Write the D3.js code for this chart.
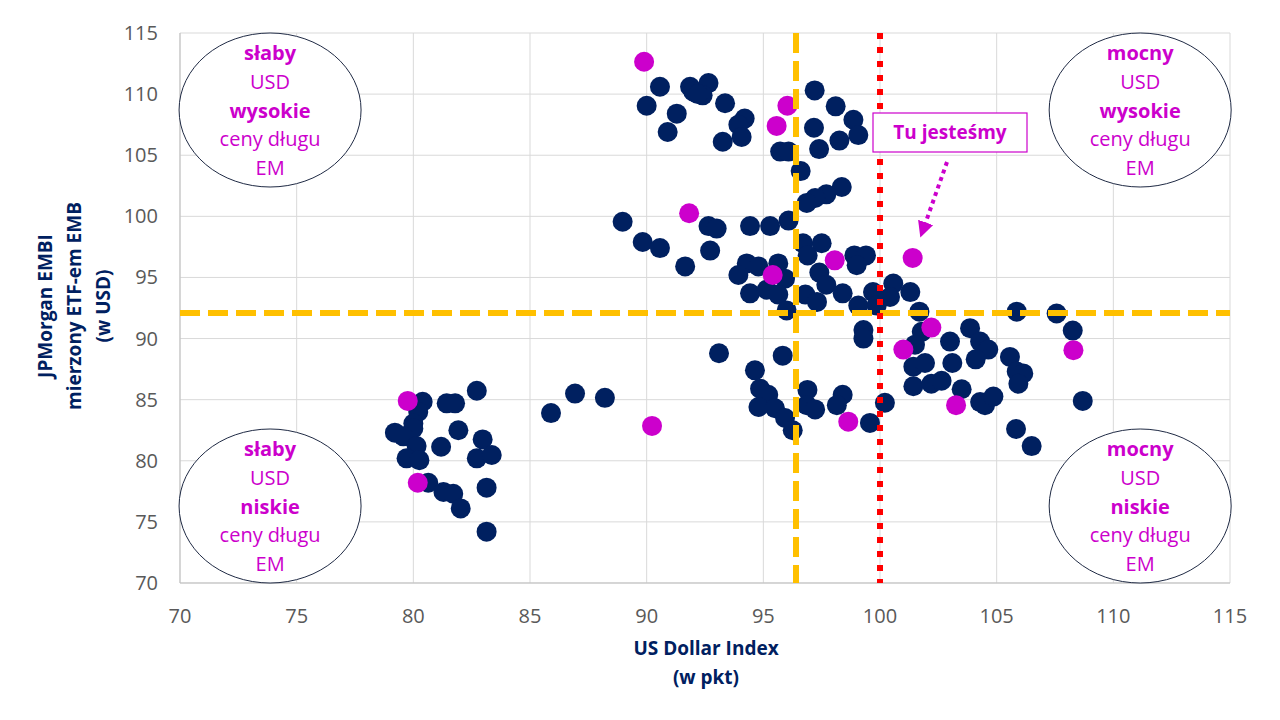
<!DOCTYPE html>
<html>
<head>
<meta charset="utf-8">
<script src="https://cdn.jsdelivr.net/npm/d3@7"></script>
<style>
  body { margin: 0; background: #fff; }
  svg { font-family: "Open Sans", "Liberation Sans", sans-serif; }
</style>
</head>
<body>
<svg id="chart" width="1280" height="720"></svg>
<script>
// ticks of both axes
var xTicks = [70, 75, 80, 85, 90, 95, 100, 105, 110, 115];
var yTicks = [70, 75, 80, 85, 90, 95, 100, 105, 110, 115];

// navy points: [US Dollar Index, EMB]
var navyPoints = [
  [90.57,110.6],[90.0,109.05],[91.86,110.6],[92.0,110.2],[92.65,110.9],[92.4,109.9],[92.2,110.0],
  [91.29,108.4],[90.9,106.9],[93.36,109.25],[94.2,108.0],[93.93,107.5],[94.07,106.5],[93.26,106.1],
  [95.72,105.3],[96.08,105.3],[96.6,103.7],[97.2,110.3],[98.1,109.0],[97.17,107.25],[98.86,107.9],
  [99.07,106.65],[98.26,106.2],[97.39,105.5],[98.36,102.4],[97.7,101.8],[97.22,101.5],[96.86,101.1],
  [88.97,99.56],[96.08,99.65],[95.29,99.2],[94.43,99.2],[92.65,99.2],[93.0,99.0],
  [89.83,97.9],[90.57,97.4],[92.72,97.2],[91.65,95.9],[94.29,96.15],[94.79,95.9],[93.93,95.2],
  [95.64,96.15],[95.93,94.9],[94.43,93.7],[95.15,94.0],[95.64,93.6],[96.0,92.3],
  [96.7,97.8],[97.5,97.8],[96.9,96.8],[97.4,95.4],[97.7,94.4],[98.4,93.7],
  [98.9,96.8],[99.4,96.8],[99.0,96.0],[96.8,93.6],[97.3,93.0],[99.07,92.7],
  [99.7,93.8],[99.86,92.7],[100.57,94.5],[100.43,93.4],[101.3,93.8],
  [99.29,90.7],[99.29,90.0],[93.1,88.8],[95.83,88.6],[94.64,87.4],[94.86,85.9],[95.21,85.4],
  [94.79,84.4],[95.5,84.3],[95.93,83.5],[96.26,82.5],[96.89,85.8],[96.86,84.55],[97.22,84.2],
  [98.4,85.4],[98.15,84.55],[99.57,83.1],[100.21,84.75],[101.43,87.7],[101.43,86.1],
  [101.69,92.2],[101.79,90.55],[101.5,89.5],[103.0,89.75],[103.86,90.85],[104.29,89.75],
  [104.64,89.1],[104.1,88.3],[101.93,88.0],[103.1,88.0],[102.2,86.3],[102.64,86.55],[103.5,85.85],
  [104.29,84.8],[104.5,84.55],[104.86,85.25],[105.57,88.5],[105.86,87.3],[106.14,87.15],[105.93,86.3],
  [105.86,92.2],[107.57,92.05],[108.26,90.65],[108.69,84.9],[105.83,82.6],[106.5,81.2],
  [80.4,84.83],[81.43,84.7],[81.79,84.7],[82.72,85.73],[80.21,84.0],[80.0,83.05],[80.0,82.65],
  [79.21,82.3],[79.57,82.0],[81.93,82.5],[80.14,81.2],[81.19,81.15],[82.97,81.75],[79.71,80.2],
  [80.26,80.05],[82.72,80.2],[83.36,80.47],[80.64,78.2],[81.29,77.45],[81.71,77.3],[82.03,76.1],
  [83.14,77.8],[83.14,74.2],[85.9,83.9],[86.93,85.5],[88.21,85.15]
];

// magenta points
var magentaPoints = [
  [89.89,112.65],[96.03,109.05],[95.57,107.4],[91.82,100.25],[95.4,95.2],[98.06,96.4],
  [101.4,96.6],[102.2,90.9],[101.0,89.1],[108.29,89.05],[103.26,84.55],[98.64,83.2],
  [90.23,82.85],[79.76,84.9],[80.19,78.2]
];

// reference lines
var avgX = 96.4;
var avgY = 92.1;
var nowX = 100;

// quadrant labels: centre in data units, lines [text, bold]
var quadrants = [
  { cx: 73.86, cy: 108.7, lines: [["słaby", true], ["USD", false], ["wysokie", true], ["ceny długu", false], ["EM", false]] },
  { cx: 111.15, cy: 108.7, lines: [["mocny", true], ["USD", false], ["wysokie", true], ["ceny długu", false], ["EM", false]] },
  { cx: 73.86, cy: 76.3, lines: [["słaby", true], ["USD", false], ["niskie", true], ["ceny długu", false], ["EM", false]] },
  { cx: 111.15, cy: 76.3, lines: [["mocny", true], ["USD", false], ["niskie", true], ["ceny długu", false], ["EM", false]] }
];

var svg = d3.select('#chart');
var x = d3.scaleLinear().domain([70, 115]).range([180, 1230]);
var y = d3.scaleLinear().domain([70, 115]).range([583, 33]);

var navy = '#002060', magenta = '#CC00CC', gray = '#595959';

// grid
var grid = svg.append('g');
grid.selectAll('line.v').data(xTicks).enter().append('line')
  .attr('x1', d => x(d)).attr('x2', d => x(d)).attr('y1', y(115)).attr('y2', y(70))
  .attr('stroke', '#d9d9d9').attr('stroke-width', 1);
grid.selectAll('line.h').data(yTicks).enter().append('line')
  .attr('x1', x(70)).attr('x2', x(115)).attr('y1', d => y(d)).attr('y2', d => y(d))
  .attr('stroke', '#d9d9d9').attr('stroke-width', 1);
svg.append('line').attr('x1', x(70)).attr('x2', x(115)).attr('y1', y(70)).attr('y2', y(70)).attr('stroke', '#bfbfbf');
svg.append('line').attr('x1', x(70)).attr('x2', x(70)).attr('y1', y(70)).attr('y2', y(115)).attr('stroke', '#bfbfbf');

// tick labels
svg.append('g').selectAll('text').data(xTicks).enter().append('text')
  .text(d => d).attr('x', d => x(d)).attr('y', 623)
  .attr('text-anchor', 'middle').attr('font-size', 20).attr('fill', gray);
svg.append('g').selectAll('text').data(yTicks).enter().append('text')
  .text(d => d).attr('x', 158).attr('y', d => y(d) + 7)
  .attr('text-anchor', 'end').attr('font-size', 20).attr('fill', gray);

// axis titles
svg.append('text').text('US Dollar Index').attr('x', 706).attr('y', 655)
  .attr('text-anchor', 'middle').attr('font-size', 19).attr('font-weight', 'bold').attr('fill', navy);
svg.append('text').text('(w pkt)').attr('x', 706).attr('y', 684)
  .attr('text-anchor', 'middle').attr('font-size', 19).attr('font-weight', 'bold').attr('fill', navy);
var yTitle = ['JPMorgan EMBI', 'mierzony ETF-em EMB', '(w USD)'];
svg.append('g').attr('transform', 'translate(52,306) rotate(-90)')
  .selectAll('text').data(yTitle).enter().append('text')
  .text(d => d).attr('x', 0).attr('y', (d, i) => i * 29)
  .attr('text-anchor', 'middle').attr('font-size', 19).attr('font-weight', 'bold').attr('fill', navy);

// quadrant ellipses
var q = svg.append('g').selectAll('g').data(quadrants).enter().append('g')
  .attr('transform', d => 'translate(' + x(d.cx) + ',' + y(d.cy) + ')');
q.append('ellipse').attr('rx', 91).attr('ry', 77)
  .attr('fill', 'white').attr('stroke', '#1f2a44').attr('stroke-width', 1);
q.selectAll('text').data(d => d.lines).enter().append('text')
  .text(d => d[0]).attr('x', 0).attr('y', (d, i) => -50 + i * 28.8)
  .attr('text-anchor', 'middle').attr('font-size', 20)
  .attr('font-weight', d => d[1] ? 'bold' : 'normal').attr('fill', magenta);

// points
svg.append('g').selectAll('circle').data(navyPoints).enter().append('circle')
  .attr('cx', d => x(d[0])).attr('cy', d => y(d[1])).attr('r', 10).attr('fill', navy);
svg.append('g').selectAll('circle').data(magentaPoints).enter().append('circle')
  .attr('cx', d => x(d[0])).attr('cy', d => y(d[1])).attr('r', 10).attr('fill', magenta);

// reference lines
svg.append('line').attr('x1', x(70)).attr('x2', x(115)).attr('y1', y(avgY)).attr('y2', y(avgY))
  .attr('stroke', '#FFC000').attr('stroke-width', 6).attr('stroke-dasharray', '20,8');
svg.append('line').attr('x1', x(avgX)).attr('x2', x(avgX)).attr('y1', y(115)).attr('y2', y(70))
  .attr('stroke', '#FFC000').attr('stroke-width', 6).attr('stroke-dasharray', '20,8');
svg.append('line').attr('x1', x(nowX)).attr('x2', x(nowX)).attr('y1', y(115)).attr('y2', y(70))
  .attr('stroke', '#FF0000').attr('stroke-width', 6).attr('stroke-dasharray', '6,8');

// "Tu jesteśmy" box and arrow
svg.append('rect').attr('x', 873).attr('y', 113).attr('width', 154).attr('height', 39)
  .attr('fill', 'white').attr('stroke', magenta).attr('stroke-width', 1.2);
svg.append('text').text('Tu jesteśmy').attr('x', 950).attr('y', 139)
  .attr('text-anchor', 'middle').attr('font-size', 19).attr('font-weight', 'bold').attr('fill', magenta);
svg.append('defs').append('marker').attr('id', 'arr').attr('viewBox', '0 0 10 10')
  .attr('refX', 5).attr('refY', 5).attr('markerWidth', 4).attr('markerHeight', 4)
  .attr('orient', 'auto').append('path').attr('d', 'M0,0 L10,5 L0,10 Z').attr('fill', magenta);
svg.append('line').attr('x1', 947).attr('y1', 162).attr('x2', 923).attr('y2', 230)
  .attr('stroke', magenta).attr('stroke-width', 4).attr('stroke-dasharray', '4,4')
  .attr('marker-end', 'url(#arr)');
</script>
</body>
</html>
